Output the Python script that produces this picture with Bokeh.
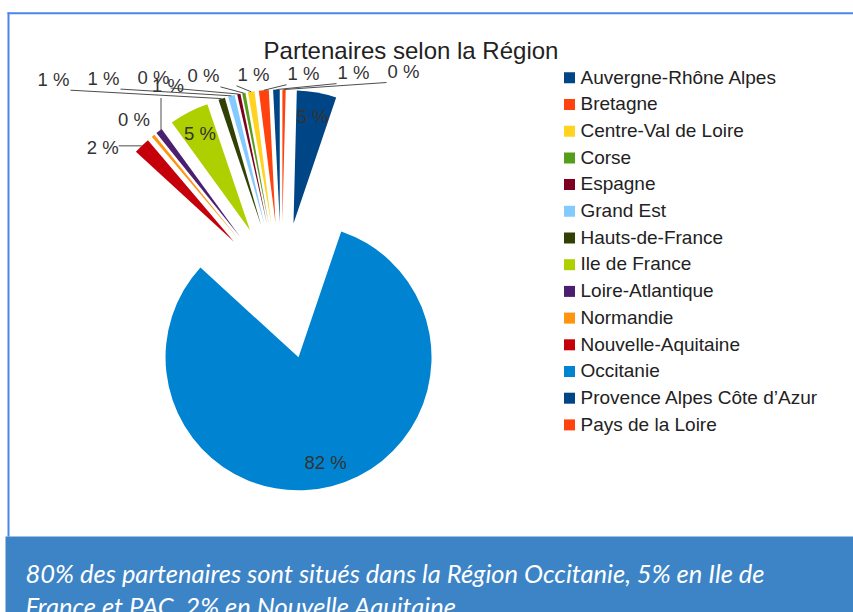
import math
from bokeh.plotting import figure
from bokeh.models import Range1d
from bokeh.core.properties import value
from bokeh.embed import file_html
from bokeh.resources import INLINE

# ---------------- data ----------------
regions = [
    "Auvergne-Rhône Alpes", "Bretagne", "Centre-Val de Loire", "Corse", "Espagne",
    "Grand Est", "Hauts-de-France", "Ile de France", "Loire-Atlantique", "Normandie",
    "Nouvelle-Aquitaine", "Occitanie", "Provence Alpes Côte d’Azur", "Pays de la Loire",
]
shares = [0.8, 1.2, 0.8, 0.4, 0.4, 0.8, 0.8, 4.8, 0.8, 0.4, 2.0, 81.6, 4.8, 0.4]
colors = [
    "#004586", "#ff420e", "#ffd320", "#579d1c", "#7e0021", "#83caff", "#314004",
    "#aecf00", "#4b1f6f", "#ff950e", "#c5000b", "#0084d1", "#004586", "#ff420e",
]
chart_title = "Partenaires selon la Région"
caption_lines = [
    "80% des partenaires sont situés dans la Région Occitanie, 5% en Ile de",
    "France et PAC, 2% en Nouvelle Aquitaine",
]

# ---------------- layout ----------------
W, H = 853, 612


def X(px):
    return px


def Y(py):
    return H - py


CX, CY = X(281), Y(290.5)
R = 133
EXPLODE = 68.5
FONT = value("Liberation Sans")
TXT = "#333333"
LEAD = "#4d4d4d"

p = figure(width=W, height=H, output_backend="svg", toolbar_location=None,
           x_range=Range1d(0, W), y_range=Range1d(0, H), min_border=0,
           x_axis_location=None, y_axis_location=None)
p.grid.visible = False
p.outline_line_color = None
p.background_fill_color = "white"
p.border_fill_color = "white"

# ---------------- pie geometry ----------------
total = sum(shares)
a0s, a1s, mids = [], [], []
a = 90.0
for s in shares:
    span = 360.0 * s / total
    a0s.append(a)
    a1s.append(a + span)
    mids.append((a + span / 2.0) % 360.0)
    a += span

wx = [CX + EXPLODE * math.cos(math.radians(m)) for m in mids]
wy = [CY + EXPLODE * math.sin(math.radians(m)) for m in mids]
p.wedge(x=wx, y=wy, radius=R,
        start_angle=[math.radians(v) for v in a0s],
        end_angle=[math.radians(v) for v in a1s],
        direction="anticlock", fill_color=colors, line_color=None)

pct = [f"{round(100.0 * s / total)} %" for s in shares]

# inside labels (big slices)
inside = [i for i, s in enumerate(shares) if 100.0 * s / total >= 4]
ix = [wx[i] + 0.82 * R * math.cos(math.radians(mids[i])) for i in inside]
iy = [wy[i] + 0.82 * R * math.sin(math.radians(mids[i])) for i in inside]
p.text(x=ix, y=iy, text=[pct[i] for i in inside], text_font=FONT,
       text_font_size="18.5px", text_color=TXT, text_align="center",
       text_baseline="middle")

# outside labels
outside = sorted([i for i in range(len(shares)) if i not in inside], key=lambda i: mids[i])


def outer(i):
    m = math.radians(mids[i])
    return (CX + (EXPLODE + R) * math.cos(m), CY + (EXPLODE + R) * math.sin(m))


top_group = [i for i in outside if mids[i] < 112]
left_group = [i for i in outside if mids[i] >= 112]

lx, ly, lt, la = [], [], [], []
seg_x0, seg_y0, seg_x1, seg_y1 = [], [], [], []
for k, i in enumerate(top_group):
    cx_ = X(403 - 50 * k)
    ctr = Y(71 + 1.1 * k)
    ox, oy = outer(i)
    lx.append(cx_)
    ly.append(ctr)
    lt.append(pct[i])
    la.append("center")
    sx = cx_ - 17 if cx_ > ox else cx_ + 17
    seg_x0.append(sx)
    seg_y0.append(ctr - 11)
    seg_x1.append(ox)
    seg_y1.append(oy)

# left cluster: first with a vertical leader, second beside, third with a horizontal leader
if len(left_group) >= 1:
    i = left_group[0]
    ox, oy = outer(i)
    lx.append(ox + 9); ly.append(oy + 46); lt.append(pct[i]); la.append("center")
    seg_x0.append(ox + 2); seg_y0.append(oy + 33); seg_x1.append(ox + 2); seg_y1.append(oy)
if len(left_group) >= 2:
    i = left_group[1]
    ox, oy = outer(i)
    lx.append(ox - 19); ly.append(oy + 16); lt.append(pct[i]); la.append("center")
if len(left_group) >= 3:
    i = left_group[2]
    ox, oy = outer(i)
    lx.append(ox - 23); ly.append(oy - 2); lt.append(pct[i]); la.append("right")
    seg_x0.append(ox - 23); seg_y0.append(oy); seg_x1.append(ox); seg_y1.append(oy)

p.segment(x0=seg_x0, y0=seg_y0, x1=seg_x1, y1=seg_y1, line_color=LEAD, line_width=1)
p.text(x=lx, y=ly, text=lt, text_font=FONT, text_font_size="18.5px",
       text_color=TXT, text_align=la, text_baseline="middle")

# title
p.text(x=[X(410.5)], y=[Y(49.5)], text=[chart_title], text_font=FONT,
       text_font_size="24px", text_color="#222222", text_align="center",
       text_baseline="middle")

# legend
n = len(regions)
p.rect(x=[X(569)] * n, y=[Y(77.3 + 26.7 * i) for i in range(n)], width=11, height=11,
       fill_color=colors, line_color=None)
p.text(x=[X(580)] * n, y=[Y(76.5 + 26.7 * i) for i in range(n)], text=regions,
       text_font=FONT, text_font_size="19px", text_color="#222222",
       text_align="left", text_baseline="middle")

# frame lines
p.segment(x0=[X(7)], y0=[Y(12.7)], x1=[W], y1=[Y(12.7)], line_color="#4a86e8", line_width=2)
p.segment(x0=[X(8)], y0=[Y(12)], x1=[X(8)], y1=[Y(536)], line_color="#4a86e8", line_width=2)

# caption banner
p.quad(left=[X(5)], right=[W], top=[Y(536)], bottom=[0], fill_color="#3d84c6", line_color=None)
p.text(x=[X(25)] * len(caption_lines), y=[Y(572 + 33.3 * j) for j in range(len(caption_lines))],
       text=caption_lines, text_font=value("Lato"), text_font_style="italic",
       text_font_size="25.5px", text_color="white", text_align="left",
       text_baseline="middle")

open("out.html", "w").write(file_html(p, INLINE))
